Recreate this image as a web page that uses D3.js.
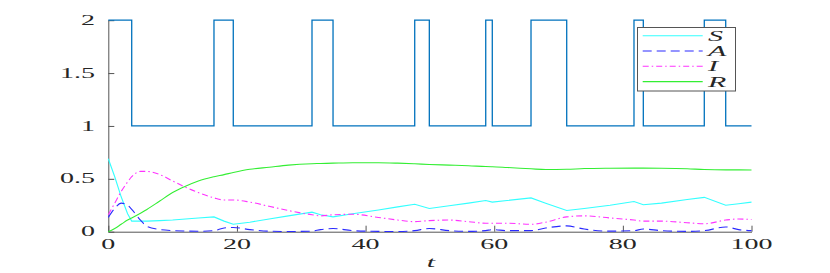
<!DOCTYPE html>
<html>
<head>
<meta charset="utf-8">
<script src="https://cdn.jsdelivr.net/npm/d3@7"></script>
<style>
  body { margin: 0; background: #fff; }
  text { font-family: "Liberation Serif", "DejaVu Serif", serif; fill: #262626; }
</style>
</head>
<body>
<script>
var sigmaT = [0, 3.64, 16.43, 19.43, 31.67, 34.94, 47.64, 49.91, 58.68, 59.7, 65.72, 71.27, 81.73, 83.18, 92.66, 95.99, 100]
var sigmaV = [2, 1, 2, 1, 2, 1, 2, 1, 2, 1, 2, 1, 2, 1, 2, 1, 1]

var times = [0, 1, 2, 3, 3.64, 5, 6, 8, 10, 12, 14, 16.43, 18, 19.43, 22, 25, 28, 31.67, 33, 34.94, 38, 42, 45, 47.64, 49.91, 53, 56, 58.68, 59.7, 62, 65.72, 68, 71.27, 74, 78, 81.73, 83.18, 86, 90, 92.66, 95.99, 98, 100]
var sVals = [0.69, 0.52, 0.33, 0.17, 0.10, 0.10, 0.10, 0.105, 0.11, 0.12, 0.13, 0.14, 0.10, 0.07, 0.09, 0.12, 0.15, 0.185, 0.16, 0.14, 0.17, 0.205, 0.235, 0.26, 0.22, 0.245, 0.27, 0.295, 0.28, 0.295, 0.32, 0.27, 0.20, 0.22, 0.25, 0.285, 0.255, 0.27, 0.305, 0.325, 0.25, 0.265, 0.28]
var aVals = [0.135, 0.22, 0.27, 0.25, 0.21, 0.11, 0.05, 0.02, 0.01, 0.006, 0.004, 0.01, 0.035, 0.04, 0.02, 0.005, 0.002, 0.005, 0.02, 0.03, 0.01, 0.003, 0.002, 0.01, 0.03, 0.01, 0.003, 0.01, 0.02, 0.01, 0.01, 0.035, 0.055, 0.025, 0.005, 0.01, 0.025, 0.01, 0.003, 0.01, 0.045, 0.02, 0.01]
var iVals = [0.16, 0.27, 0.38, 0.47, 0.52, 0.57, 0.57, 0.54, 0.48, 0.42, 0.37, 0.32, 0.30, 0.30, 0.28, 0.24, 0.20, 0.16, 0.15, 0.16, 0.165, 0.135, 0.11, 0.095, 0.105, 0.11, 0.095, 0.08, 0.08, 0.08, 0.07, 0.09, 0.14, 0.15, 0.13, 0.11, 0.10, 0.10, 0.085, 0.075, 0.11, 0.12, 0.115]
var rVals = [0, 0.03, 0.07, 0.11, 0.13, 0.175, 0.21, 0.29, 0.37, 0.43, 0.48, 0.52, 0.54, 0.56, 0.59, 0.61, 0.63, 0.643, 0.645, 0.648, 0.652, 0.652, 0.648, 0.642, 0.636, 0.63, 0.624, 0.616, 0.614, 0.607, 0.595, 0.588, 0.59, 0.597, 0.60, 0.601, 0.601, 0.60, 0.595, 0.588, 0.585, 0.585, 0.584]

var xTicks = [0, 20, 40, 60, 80, 100]
var yTicks = [0, 0.5, 1, 1.5, 2]

var series = [
  {name: 'S', vals: sVals, color: '#33ffff', dash: null, curve: d3.curveLinear},
  {name: 'A', vals: aVals, color: '#2b2bff', dash: '9,5', curve: d3.curveMonotoneX},
  {name: 'I', vals: iVals, color: '#ff33ff', dash: '6,3,1.5,3', curve: d3.curveMonotoneX},
  {name: 'R', vals: rVals, color: '#33ee33', dash: null, curve: d3.curveMonotoneX}
]

var svg = d3.select('body')
            .append('svg')
            .attr('width', 830)
            .attr('height', 273)

var x = d3.scaleLinear().domain([0, 100]).range([108.3, 751.5])
var y = d3.scaleLinear().domain([0, 2]).range([231.7, 20.2])

// axes, ticks pointing inward
var xAxis = svg.append('g')
   .attr('transform', 'translate(0,' + y(0) + ')')
   .call(d3.axisBottom(x).tickValues(xTicks).tickSize(-6).tickSizeOuter(0).tickFormat(''))
var yAxis = svg.append('g')
   .attr('transform', 'translate(' + x(0) + ',0)')
   .call(d3.axisLeft(y).tickValues(yTicks).tickSize(-6).tickSizeOuter(0).tickFormat(''))

svg.selectAll('.domain, .tick line')
   .attr('stroke', '#555')
   .attr('stroke-width', 1)

// labels are stretched horizontally like in the source picture
svg.selectAll('.xlab')
   .data(xTicks)
   .enter()
   .append('text')
   .attr('transform', function(d){ return 'translate(' + x(d) + ',249) scale(2,1)' })
   .attr('text-anchor', 'middle')
   .style('font-size', '14px')
   .text(function(d){ return d })

svg.selectAll('.ylab')
   .data(yTicks)
   .enter()
   .append('text')
   .attr('transform', function(d){ return 'translate(95,' + (y(d) + 4.6) + ') scale(2,1)' })
   .attr('text-anchor', 'end')
   .style('font-size', '14px')
   .text(function(d){ return d })

svg.append('text')
   .attr('transform', 'translate(431,267) scale(2,1)')
   .attr('text-anchor', 'middle')
   .style('font-size', '15px')
   .style('font-style', 'italic')
   .text('t')

var sigmaLine = d3.line()
   .curve(d3.curveStepAfter)
   .x(function(d, i){ return x(sigmaT[i]) })
   .y(function(d){ return y(d) })

svg.append('path')
   .attr('d', sigmaLine(sigmaV))
   .attr('fill', 'none')
   .attr('stroke', '#0072bd')
   .attr('stroke-width', 1.3)

series.forEach(function(s){
  var line = d3.line()
     .curve(s.curve)
     .x(function(d, i){ return x(times[i]) })
     .y(function(d){ return y(d) })
  svg.append('path')
     .attr('d', line(s.vals))
     .attr('fill', 'none')
     .attr('stroke', s.color)
     .attr('stroke-width', 1.1)
     .attr('stroke-dasharray', s.dash)
})

var legend = svg.append('g')
legend.append('rect')
      .attr('x', 637.5)
      .attr('y', 27.5)
      .attr('width', 98)
      .attr('height', 63.5)
      .attr('fill', '#fff')
      .attr('stroke', '#555')
      .attr('stroke-width', 1)

var items = legend.selectAll('g')
      .data(series)
      .enter()
      .append('g')
      .attr('transform', function(d, i){ return 'translate(0,' + (35.7 + i * 15.3) + ')' })

items.append('line')
     .attr('x1', 642.7)
     .attr('x2', 702.7)
     .attr('stroke', function(d){ return d.color })
     .attr('stroke-width', 1.1)
     .attr('stroke-dasharray', function(d){ return d.dash })

items.append('text')
     .attr('transform', 'translate(708,5) scale(2,1)')
     .style('font-size', '15px')
     .style('font-style', 'italic')
     .text(function(d){ return d.name })
</script>
</body>
</html>
